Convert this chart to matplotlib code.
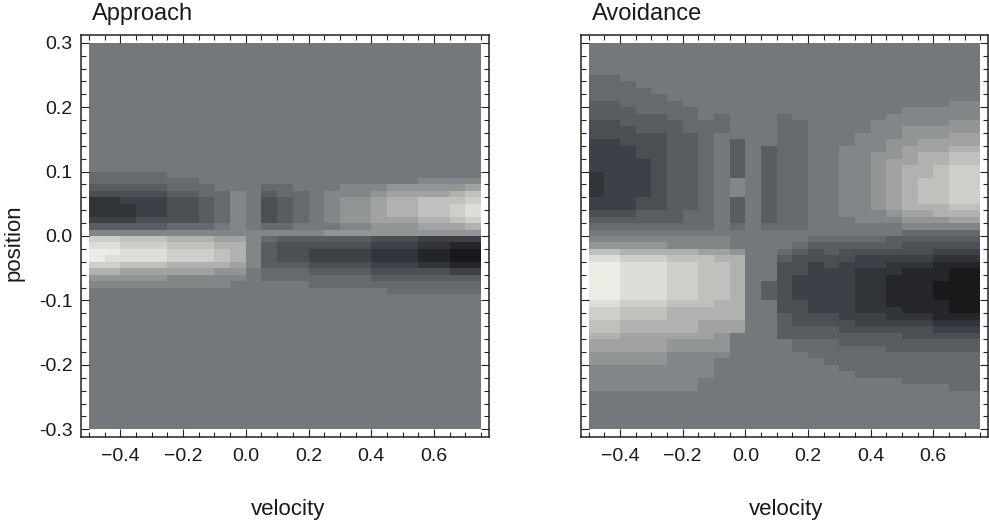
import matplotlib
matplotlib.use('Agg')
import matplotlib.pyplot as plt
from matplotlib.colors import LinearSegmentedColormap
from matplotlib.ticker import MultipleLocator
import numpy as np

plt.rcParams['font.family'] = ['Liberation Sans', 'DejaVu Sans']

# bin edges of the two maps
velocityEdges = np.linspace(-0.5, 0.75, 26)
positionEdges = np.linspace(-0.3, 0.3, 61)

# gray levels 0..f, 7 = neutral background
# Approach: one string per position row, from 0.3 (top) down to -0.3
approachRows = ['7777777777777777777777777'] * 20 + [
	'6666677777777777777777777',
	'6666666777777777777778888',
	'555556667776677788899999a',
	'4444455668756678889aaaabc',
	'223334456874567899abbcccd',
	'222334456874567899abbccde',
	'222334456874567899abbccde',
	'333444456874567899aaabbcd',
	'555556667876677788999aaab',
	'8888888888888889999999999',
	'ddcccbbbaa865555554443333',
	'eedddcccbb854444443332211',
	'ffeeedddcb854433332221100',
	'feeeedddcb854433332221100',
	'ddcccbbbba855544443332211',
	'bbaaaaaa99766655554444433',
	'9999988888766666665555555',
	'8888888887777766666666666',
	'7777777777777777777666666',
] + ['7777777777777777777777777'] * 21

# Avoidance: one string per velocity column, position 0.3 (top) down to -0.3
avoidanceCols = [
	'777776666555444333332222334567' + '89ceffffffeddccbaa998888777777',
	'777776666555444333333333334567' + '89ceffffffeddccbaa998888777777',
	'777777666655544433333333334567' + '89bdeeeeeedccbbaaa998888777777',
	'777777766665554444333333445567' + '89bdeeeeeedccbbaaa998888777777',
	'777777776665554444444444445567' + '89bdeeeeeedccbbaaa998888777777',
	'777777777666555555555555555567' + '88bcddddddcbbbba99888888777777',
	'777777777766665555555555556667' + '88bcddddddcbbbba99888888777777',
	'777777777777666666666666666667' + '88accccccccbbaaa99888877777777',
	'777777777776667777777777777777' + '88abccccccbbbaa999877777777777',
	'777777777777777555555888555567' + '779bbbbbbbbbbaa777777777777777',
	'777777777777777777777777777777' + '777777777777777777777777777777',
	'777777777777777755555555555567' + '777777755577777777777777777777',
	'777777777776666666666666666667' + '776544444444555577777777777777',
	'777777777777666666666666666667' + '765444333344445566777777777777',
	'777777777777777777777777777777' + '654433333333445566677777777777',
	'777777777777777777777777777777' + '655443333333445566667777777777',
	'777777777777777788888888888777' + '654433333333344556666777777777',
	'777777777777778888888888888877' + '654332222222334556666677777777',
	'777777777777888889999999998877' + '654332222222334556666677777777',
	'777777777778888999aaaaaaaa9877' + '554322111112234555666677777777',
	'7777777777888999aaabbbbbbba986' + '544321111111234455666667777777',
	'777777777788899aabbbbccccba986' + '544321111111234455666667777777',
	'777777777788899aabbccccccbb986' + '543211100011123455666667777777',
	'77777777788899aabccddddddcba86' + '543210000000123455666666777777',
	'77777777788899aabccddddddcba86' + '543210000000123455666666777777',
]

xTicks = [-0.4, -0.2, 0.0, 0.2, 0.4, 0.6]
xTickLabels = ['\u22120.4', '\u22120.2', '0.0', '0.2', '0.4', '0.6']
yTicks = [-0.3, -0.2, -0.1, 0.0, 0.1, 0.2, 0.3]
yTickLabels = ['-0.3', '-0.2', '-0.1', '0.0', '0.1', '0.2', '0.3']


def toGrid(strings):
	rows = [[int(ch, 16) for ch in s] for s in strings]
	lengths = set(len(r) for r in rows)
	if len(lengths) != 1:
		raise ValueError('ragged grid: ' + str(lengths))
	return np.array(rows, dtype=float)


approach = toGrid(approachRows)[::-1]
avoidance = toGrid(avoidanceCols).T[::-1]

grayTones = LinearSegmentedColormap.from_list('grayTones', [
	(0.0, '#19191c'),
	(3.5 / 15, '#43484e'),
	(7.0 / 15, '#72787b'),
	(11.0 / 15, '#afb2af'),
	(1.0, '#ecece4')])

fig = plt.figure(figsize=(9.89, 5.30), dpi=100)
W, H = 989.0, 530.0
axL = fig.add_axes([81 / W, 93 / H, 408 / W, 402 / H])
axR = fig.add_axes([581 / W, 93 / H, 407 / W, 402 / H])

for ax, grid, name in [(axL, approach, 'Approach'), (axR, avoidance, 'Avoidance')]:
	ax.pcolormesh(velocityEdges, positionEdges, grid, cmap=grayTones, vmin=0, vmax=15,
		shading='flat', edgecolors='none', antialiased=False)
	ax.set_xlim(-0.525, 0.775)
	ax.set_ylim(-0.312, 0.312)
	ax.set_xticks(xTicks, xTickLabels)
	ax.set_yticks(yTicks, yTickLabels)
	ax.xaxis.set_minor_locator(MultipleLocator(0.05))
	ax.yaxis.set_minor_locator(MultipleLocator(0.02))
	ax.tick_params(which='both', direction='in', top=True, right=True, color='#222222', width=0.8)
	ax.tick_params(which='major', length=6)
	ax.tick_params(which='minor', length=3.5)
	ax.tick_params(axis='x', pad=8, labelsize=14, labelcolor='#1a1a1a')
	ax.tick_params(axis='y', pad=6, labelsize=14, labelcolor='#1a1a1a')
	for s in ax.spines.values():
		s.set_linewidth(1.1)
		s.set_color('#222222')
	x0 = ax.get_position().x0
	fig.text(x0 + 11 / W, 1 - 20 / H, name, fontsize=17, ha='left', va='baseline', color='#1a1a1a')

axR.tick_params(axis='y', labelleft=False)

fig.text(288 / W, 1 - 515 / H, 'velocity', fontsize=16, ha='center', va='baseline', color='#1a1a1a')
fig.text(786 / W, 1 - 515 / H, 'velocity', fontsize=16, ha='center', va='baseline', color='#1a1a1a')
fig.text(14 / W, 1 - 243 / H, 'position', fontsize=16, rotation=90, ha='center', va='center', color='#1a1a1a')

fig.savefig('out.png', dpi=100)
